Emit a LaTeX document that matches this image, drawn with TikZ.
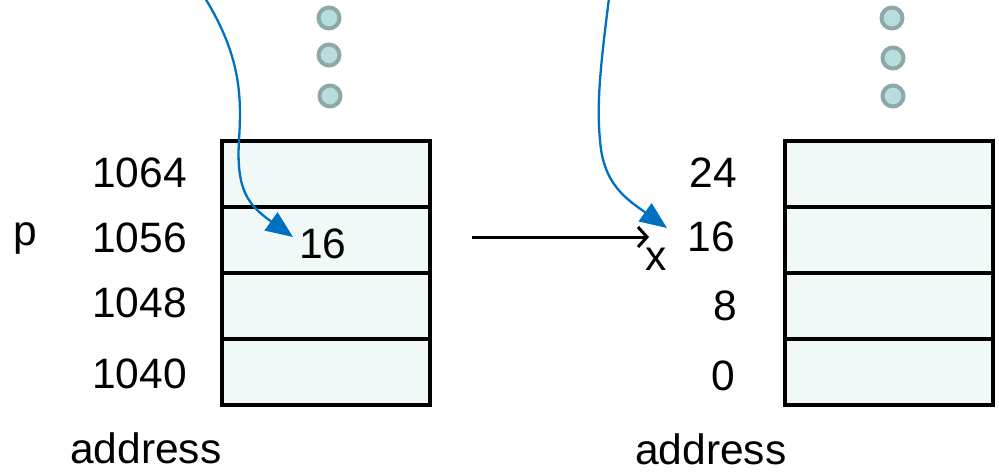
\documentclass[tikz,border=0pt]{standalone}
\usepackage{fontspec}
\setmainfont{Liberation Sans}
\usetikzlibrary{arrows.meta}
\definecolor{cellfill}{HTML}{F0F8F8}
\definecolor{dotfill}{HTML}{B8DDDF}
\definecolor{dotedge}{HTML}{8EA8A7}
\definecolor{ptrblue}{HTML}{0070C0}
\begin{document}
\begin{tikzpicture}[x=1pt,y=-1pt,
  cell/.style={draw=black,line width=4pt,fill=cellfill,rectangle,
    minimum width=208pt,minimum height=66pt,inner sep=0pt},
  dot/.style={draw=dotedge,line width=4pt,fill=dotfill,circle,
    minimum size=21pt,inner sep=0pt},
  lbl/.style={font=\fontsize{42.5}{50}\selectfont,inner sep=0pt,text=black},
  pointer/.style={ptrblue,line width=2.3pt,-{Triangle[length=27pt,width=22pt]}},
  bind/.style={line width=3pt,-{Straight Barb[length=9pt,width=20pt]}}]
\useasboundingbox (0,0) rectangle (999,476);

% memory column around p (addresses 1040..1064)
\node[cell] (m1064) at (326,174) {};
\node[cell] (m1056) at (326,240) {};
\node[cell] (m1048) at (326,306) {};
\node[cell] (m1040) at (326,372) {};

% memory column around x (addresses 0..24)
\node[cell] (a24) at (888.5,174) {};
\node[cell] (a16) at (888.5,240) {};
\node[cell] (a8)  at (888.5,306) {};
\node[cell] (a0)  at (888.5,372) {};

% ellipsis dots above each column
\node[dot] (ld1) at (329,18) {};
\node[dot] (ld2) at (329,55) {};
\node[dot] (ld3) at (330,96) {};
\node[dot] (rd1) at (892,18) {};
\node[dot] (rd2) at (893,58) {};
\node[dot] (rd3) at (893,96) {};

% address labels
\node[lbl,anchor=base east] (l1064) at (187,188) {1064};
\node[lbl,anchor=base east] (l1056) at (187,252) {1056};
\node[lbl,anchor=base east] (l1048) at (187,317) {1048};
\node[lbl,anchor=base east] (l1040) at (187,388) {1040};
\node[lbl,anchor=base east] (r24) at (737,188) {24};
\node[lbl,anchor=base east] (r16) at (735,251) {16};
\node[lbl,anchor=base east] (r8)  at (737,320) {8};
\node[lbl,anchor=base east] (r0)  at (735,390) {0};

% variable names, stored value and captions
\node[lbl,anchor=base west] (pname) at (13,245) {p};
\node[lbl,anchor=base west] (pval) at (299,258) {16};
\node[lbl,anchor=base west] (xname) at (645,270) {x};
\node[lbl,anchor=base west] (capL) at (70,463) {address};
\node[lbl,anchor=base west] (capR) at (635,464) {address};

% p refers to x
\coordinate (bindfrom) at (472,237);
\coordinate (bindto) at (649,237);
\draw[bind] (bindfrom) -- (bindto);

% incoming pointers from above
\coordinate (srcL) at (205,-2);
\coordinate (tipL) at (293,237);
\draw[pointer] (srcL) .. controls (240,55) and (242,95) .. (239,140)
  .. controls (236,190) and (248,205) .. (tipL);
\coordinate (srcR) at (609,-2);
\coordinate (tipR) at (667,228);
\draw[pointer] (srcR) .. controls (602,55) and (596,100) .. (600,140)
  .. controls (603,185) and (628,200) .. (tipR);
\end{tikzpicture}
\end{document}
